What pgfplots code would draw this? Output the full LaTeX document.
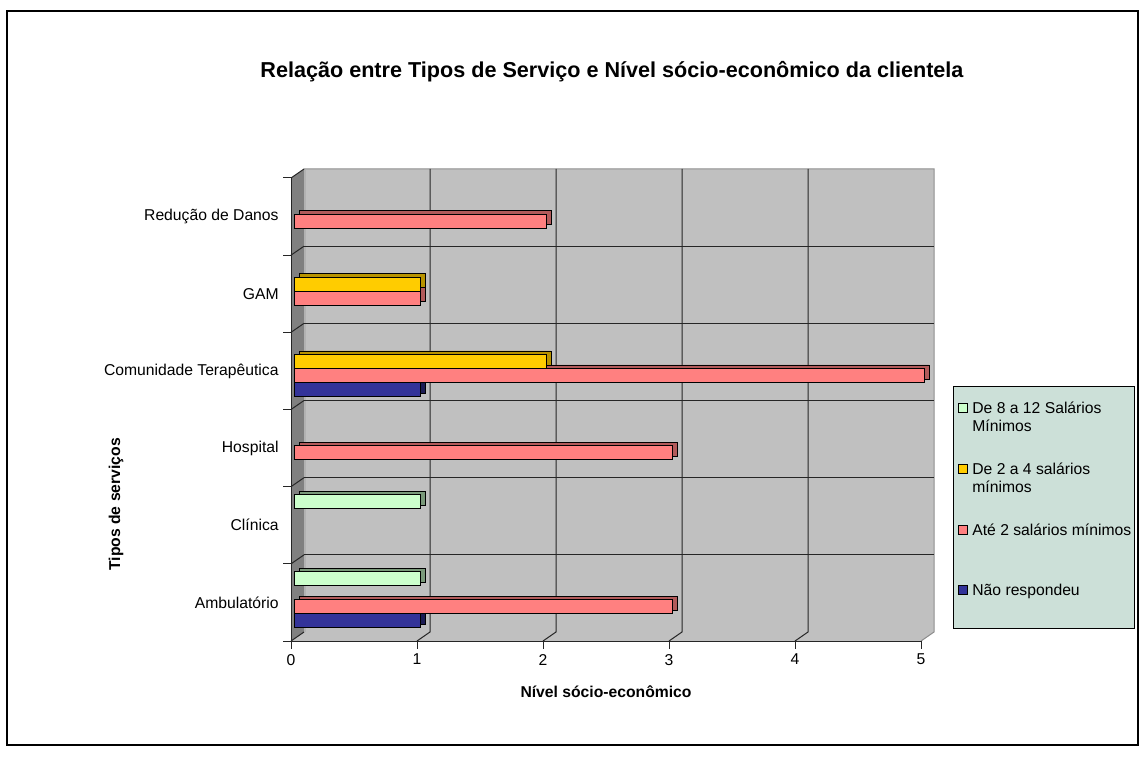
\documentclass[border=0pt]{standalone}
\usepackage{fontspec}
\setmainfont{Liberation Sans}
\usepackage{pgfplots}
\pgfplotsset{compat=1.18}
\definecolor{cblue}{RGB}{51,51,153}
\definecolor{cpink}{RGB}{255,128,128}
\definecolor{cgold}{RGB}{255,204,0}
\definecolor{cgreen}{RGB}{204,255,204}
\definecolor{wall}{RGB}{192,192,192}
\definecolor{sidewall}{RGB}{128,128,128}
\definecolor{legfill}{RGB}{204,224,216}
\newcommand\sm{\fontsize{7.85}{8.6}\selectfont}
\newcommand\legfont{\fontsize{7.85}{8.6}\selectfont}

\pgfplotstableread{
x y
1 0
1 3
}\tblNao
\pgfplotstableread{
x y
3 0
3 2
5 3
1 4
2 5
}\tblAte
\pgfplotstableread{
x y
2 3
1 4
}\tblDois
\pgfplotstableread{
x y
1 0
1 1
}\tblOito

\begin{document}
\begin{tikzpicture}
\useasboundingbox (0,0) rectangle (572.5pt,378pt);
\begin{scope}[x=0.5pt,y=-0.5pt,yshift=378pt]
 \draw[line width=0.7pt] (7,11) rectangle (1138,745);
 % 3D walls
 \fill[wall] (304,169) rectangle (934,632);
 \fill[sidewall] (291,178) -- (304,169) -- (304,632) -- (291,641) -- cycle;
 \fill[wall] (291,641) -- (304,632) -- (934,632) -- (921,641) -- cycle;
 \draw[black!45, line width=0.5pt] (304,169) -- (934,169) -- (934,632) -- (921,641);
 \draw[black!30, line width=0.6pt] (305,170) -- (305,632);
 % horizontal grid
 \foreach \k in {0,...,6} {
   \draw[line width=0.5pt, black!85] (291,{178+77.17*\k}) -- (304,{169+77.17*\k});
   \draw[line width=0.5pt, black!85] (283,{178+77.17*\k}) -- (291,{178+77.17*\k});
 }
 \foreach \k in {1,...,5} {
   \draw[line width=0.5pt, black!85] (304,{169+77.17*\k}) -- (934,{169+77.17*\k});
 }
 % vertical grid
 \foreach \k in {1,...,4} {
   \draw[line width=0.5pt, black!85] ({291+126*\k},641) -- ({304+126*\k},632) -- ({304+126*\k},169);
 }
 \foreach \k in {0,...,5} {
   \draw[line width=0.5pt, black!85] ({291+126*\k},641) -- ({291+126*\k},649);
 }
 \draw[line width=0.5pt, black!85] (291,178) -- (291,641) -- (921,641);
 % legend box
 \draw[fill=legfill, line width=0.5pt] (953,386) rectangle (1134,628);
\end{scope}

\begin{axis}[
  at={(145.5pt,57.5pt)}, anchor=south west,
  scale only axis, width=315pt, height=231.5pt,
  xmin=0, xmax=5, ymin=-0.5, ymax=5.5,
  axis line style={draw=none}, tick style={draw=none},
  xtick={0,...,5}, ytick={0,...,5},
  yticklabels={Ambulatório,Clínica,Hospital,Comunidade Terapêutica,GAM,Redução de Danos},
  ticklabel style={font=\sm},
  /pgf/number format/assume math mode=true,
  yticklabel style={xshift=1.6pt},
  xticklabel style={yshift=-3pt},
  xbar, bar width=7pt,
  clip=false,
  xlabel={Nível sócio-econômico}, ylabel={Tipos de serviços},
  label style={font=\sm\bfseries},
  xlabel style={at={(axis description cs:0.5,-0.1102)}, anchor=center},
  ylabel style={at={(axis description cs:-0.2778,0.295)}, anchor=center},
  every axis title shift=0pt,
  title={Relação entre Tipos de Serviço e Nível sócio-econômico da clientela},
  title style={font=\fontsize{10.8}{12}\selectfont\bfseries, at={(axis description cs:0.5095,1.229)}, anchor=center},
  legend style={at={(axis description cs:1.0587,0.527)}, anchor=north west,
     draw=none, fill=none, font=\legfont, row sep=19pt, inner sep=0pt,
     cells={anchor=base west}},
  legend image code/.code={\draw[#1,/tikz/.cd,xshift=0pt] (0pt,0.5pt) rectangle (4.5pt,5pt);},
  reverse legend,
  shadow/.style={fill=#1, draw=black, line width=0.4pt, xshift=4pt, forget plot},
  front/.style={fill=#1, draw=black, line width=0.5pt, xshift=1.5pt},
]
% depth faces
\addplot[shadow=cblue!55!black, bar shift=-7.5pt] table {\tblNao};
\addplot[shadow=cpink!70!black, bar shift=-0.5pt] table {\tblAte};
\addplot[shadow=cgold!72!black, bar shift=6.5pt] table {\tblDois};
\addplot[shadow=cgreen!60!black, bar shift=13.5pt] table {\tblOito};
% front faces
\addplot[front=cblue, bar shift=-9.25pt] table {\tblNao};
\addlegendentry{Não respondeu}
\addplot[front=cpink, bar shift=-2.25pt] table {\tblAte};
\addlegendentry{Até 2 salários mínimos}
\addplot[front=cgold, bar shift=4.75pt] table {\tblDois};
\addlegendentry{\begin{tabular}[t]{@{}l@{}}De 2 a 4 salários\\[0.2pt]mínimos\end{tabular}}
\addplot[front=cgreen, bar shift=11.75pt] table {\tblOito};
\addlegendentry{\begin{tabular}[t]{@{}l@{}}De 8 a 12 Salários\\[0.2pt]Mínimos\end{tabular}}
\end{axis}
\end{tikzpicture}
\end{document}
